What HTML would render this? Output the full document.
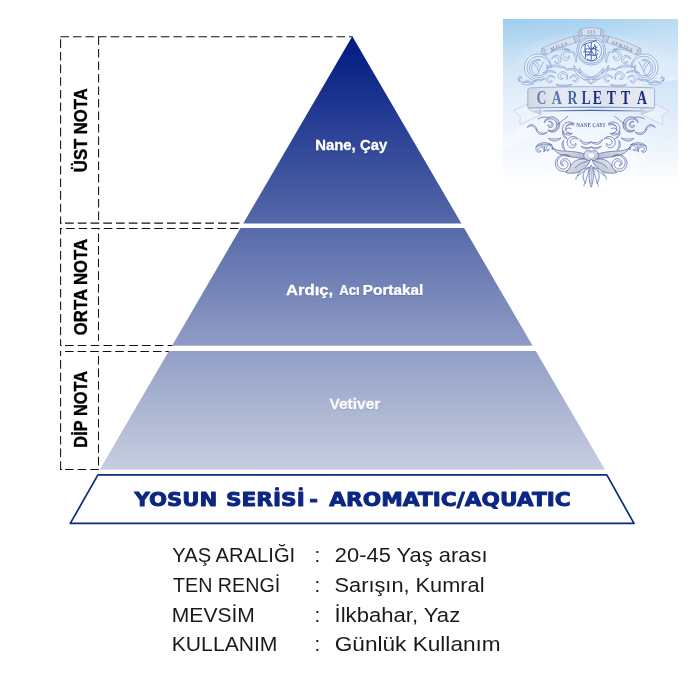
<!DOCTYPE html>
<html lang="tr">
<head>
<meta charset="utf-8">
<title>Carletta - Nane Çayı</title>
<style>
html,body{margin:0;padding:0;background:#fff;}
body{width:700px;height:700px;overflow:hidden;position:relative;font-family:"Liberation Sans",sans-serif;}
svg{position:absolute;left:0;top:0;display:block;will-change:transform;}
text{font-family:"Liberation Sans",sans-serif;}
.lbl{font-weight:700;fill:#000;font-size:17.5px;stroke:#000;stroke-width:0.35px;}
.note{font-weight:700;fill:#fff;font-size:14.8px;stroke:#fff;stroke-width:0.25px;}
.title{font-family:"DejaVu Sans","Liberation Sans",sans-serif;font-weight:700;fill:#0c2783;stroke:#0c2783;stroke-width:0.9px;stroke-linejoin:round;font-size:19.2px;}
.info{fill:#1a1a1a;font-size:20.3px;}
.orn .ln{fill:none;stroke:#6685c8;stroke-width:0.6;stroke-linecap:round;stroke-linejoin:round;}
.orn .lf{fill:#eef3fa;stroke:#7f9ad2;stroke-width:0.6;stroke-linejoin:round;}
.orn .sv{fill:url(#sv);stroke:#6685c8;stroke-width:0.6;stroke-linejoin:round;}
.orn .rb{fill:#dde3ed;stroke:#8ea4d2;stroke-width:0.55;stroke-linejoin:round;}
.orn .rb2{fill:#c6cfde;stroke:#8ea4d2;stroke-width:0.5;stroke-linejoin:round;}
.orn .top .lf{stroke:#7c97d1;stroke-width:0.7;fill:#f1f5fb;}
.orn .top .ln{stroke:#7c97d1;stroke-width:0.7;}
.orn .bot .lf{stroke:#4f63a6;fill:#f3f6fb;stroke-width:0.7;}
.orn .bot .ln{stroke:#4f63a6;stroke-width:0.7;}
.orn .bot .sv{stroke:#4f63a6;stroke-width:0.7;}
.brand{font-family:"Liberation Serif",serif;font-size:19.7px;font-weight:700;}
.sub{font-family:"Liberation Serif",serif;font-size:6.1px;font-weight:700;fill:#5d6ea6;}
.rt{font-family:"Liberation Serif",serif;font-size:5px;font-weight:700;fill:#8093bd;}
.orn .lf{fill:#dfe6f2;stroke:#5577c0;stroke-width:0.55;stroke-linejoin:round;}
.orn .sv{fill:url(#sv);stroke:#5577c0;stroke-width:0.6;stroke-linejoin:round;}
.orn .rb{fill:#d9dfea;stroke:#7f98cc;stroke-width:0.55;stroke-linejoin:round;}
.orn .rb2{fill:#c3ccdc;stroke:#7f98cc;stroke-width:0.5;stroke-linejoin:round;}
</style>
</head>
<body>
<svg width="700" height="700" viewBox="0 0 700 700">
<defs>
<linearGradient id="pg" gradientUnits="userSpaceOnUse" x1="0" y1="36" x2="0" y2="470">
<stop offset="0" stop-color="#001a82"/>
<stop offset="0.046" stop-color="#082286"/>
<stop offset="0.392" stop-color="#4d61a5"/>
<stop offset="0.668" stop-color="#8794c1"/>
<stop offset="0.979" stop-color="#c3cade"/>
<stop offset="1" stop-color="#c7cee0"/>
</linearGradient>
<linearGradient id="lbg" x1="0" y1="0" x2="1" y2="0">
<stop offset="0" stop-color="#9dccee"/>
<stop offset="1" stop-color="#a6d1ef"/>
</linearGradient>
<linearGradient id="lfade" x1="0" y1="0" x2="0" y2="1">
<stop offset="0" stop-color="#fcfbff" stop-opacity="0"/>
<stop offset="0.12" stop-color="#fcfbff" stop-opacity="0.24"/>
<stop offset="0.25" stop-color="#fcfbff" stop-opacity="0.5"/>
<stop offset="0.4" stop-color="#fcfbff" stop-opacity="0.7"/>
<stop offset="0.55" stop-color="#fcfbff" stop-opacity="0.8"/>
<stop offset="0.75" stop-color="#fdfdff" stop-opacity="0.9"/>
<stop offset="0.95" stop-color="#fff" stop-opacity="1"/>
</linearGradient>
<linearGradient id="tint" x1="0" y1="0" x2="1" y2="0">
<stop offset="0" stop-color="#8fc3ea" stop-opacity="0"/>
<stop offset="0.5" stop-color="#8fc3ea" stop-opacity="0.03"/>
<stop offset="1" stop-color="#8fc3ea" stop-opacity="0.16"/>
</linearGradient>
<linearGradient id="tintv" x1="0" y1="0" x2="0" y2="1">
<stop offset="0" stop-color="#fff" stop-opacity="0"/>
<stop offset="0.4" stop-color="#fff" stop-opacity="0"/>
<stop offset="0.85" stop-color="#fff" stop-opacity="1"/>
</linearGradient>
<mask id="tm" maskUnits="userSpaceOnUse" x="500" y="15" width="185" height="185"><rect x="500" y="15" width="185" height="185" fill="#fff"/><rect x="500" y="15" width="185" height="185" fill="url(#tintk)"/></mask>
<linearGradient id="tintk" x1="0" y1="0" x2="0" y2="1">
<stop offset="0.45" stop-color="#000" stop-opacity="0"/>
<stop offset="0.9" stop-color="#000" stop-opacity="1"/>
</linearGradient>
<linearGradient id="gloss" x1="0" y1="0" x2="1" y2="0">
<stop offset="0" stop-color="#fff" stop-opacity="0"/>
<stop offset="0.45" stop-color="#fff" stop-opacity="0.04"/>
<stop offset="1" stop-color="#fff" stop-opacity="0.22"/>
</linearGradient>
<linearGradient id="streak" x1="0" y1="0" x2="1" y2="0">
<stop offset="0" stop-color="#fff" stop-opacity="0.7"/>
<stop offset="0.3" stop-color="#fff" stop-opacity="0.25"/>
<stop offset="0.7" stop-color="#fff" stop-opacity="0.2"/>
<stop offset="1" stop-color="#fff" stop-opacity="0.6"/>
</linearGradient>
<filter id="b1" x="-5%" y="-20%" width="110%" height="140%"><feGaussianBlur stdDeviation="0.8"/></filter>
<linearGradient id="bn" x1="0" y1="0" x2="1" y2="0">
<stop offset="0" stop-color="#d3d9e4"/>
<stop offset="0.3" stop-color="#e6eaf1"/>
<stop offset="0.6" stop-color="#dde2ec"/>
<stop offset="1" stop-color="#e9edf3"/>
</linearGradient>
<linearGradient id="sv" x1="0" y1="0" x2="1" y2="1">
<stop offset="0" stop-color="#eef1f5"/>
<stop offset="0.6" stop-color="#c9ced8"/>
<stop offset="1" stop-color="#b4bac6"/>
</linearGradient>
<linearGradient id="bt" gradientUnits="userSpaceOnUse" x1="761.4" y1="0" x2="928.6" y2="0">
<stop offset="0.000" stop-color="#6a86c0"/><stop offset="0.070" stop-color="#5f7cba"/><stop offset="0.202" stop-color="#5874b5"/><stop offset="0.338" stop-color="#4a66ad"/><stop offset="0.419" stop-color="#314a98"/><stop offset="0.479" stop-color="#21388a"/><stop offset="0.549" stop-color="#192e80"/><stop offset="0.670" stop-color="#162a7c"/><stop offset="0.791" stop-color="#162a7c"/><stop offset="0.931" stop-color="#1c3182"/><stop offset="1.000" stop-color="#1c3182"/>
</linearGradient>
<linearGradient id="ul" gradientUnits="userSpaceOnUse" x1="543" y1="0" x2="641" y2="0">
<stop offset="0" stop-color="#8ea4d2"/><stop offset="0.5" stop-color="#3f5fae"/><stop offset="1" stop-color="#8ea4d2"/>
</linearGradient>
<linearGradient id="tl" x1="0" y1="0" x2="1" y2="0">
<stop offset="0" stop-color="#e9edf4"/><stop offset="1" stop-color="#c3cad8"/>
</linearGradient>
<radialGradient id="glow" cx="0.5" cy="0.5" r="0.5">
<stop offset="0" stop-color="#fff" stop-opacity="0.45"/><stop offset="0.6" stop-color="#fff" stop-opacity="0.3"/><stop offset="1" stop-color="#fff" stop-opacity="0"/>
</radialGradient>
<filter id="ts" x="-10%" y="-30%" width="120%" height="160%">
<feDropShadow dx="0" dy="0.6" stdDeviation="0.7" flood-color="#1a2a6a" flood-opacity="0.35"/>
</filter>
</defs>
<!-- dashed guides -->
<g fill="none" stroke="#111" stroke-width="1.05">
<path d="M60.20 36.70H352.50" stroke-dasharray="8.60 3.95" stroke-dashoffset="12.35"/>
<path d="M60.60 36.20V223.40" stroke-dasharray="8.60 4.05" stroke-dashoffset="9.55"/>
<path d="M98.60 36.20V221.00" stroke-dasharray="8.60 3.90" stroke-dashoffset="12.30"/>
<path d="M60.60 223.10H243.50" stroke-dasharray="8.70 4.05" stroke-dashoffset="8.35" stroke-width="1.15"/>
<path d="M60.20 228.40H241.00" stroke-dasharray="8.60 4.00" stroke-dashoffset="6.80"/>
<path d="M60.60 227.90V346.00" stroke-dasharray="8.60 4.00" stroke-dashoffset="2.00"/>
<path d="M98.50 228.30V340.80" stroke-dasharray="8.60 4.00" stroke-dashoffset="7.40"/>
<path d="M60.60 345.50H172.60" stroke-dasharray="8.60 4.24" stroke-dashoffset="8.44"/>
<path d="M60.20 351.50H169.50" stroke-dasharray="8.60 3.96" stroke-dashoffset="7.76"/>
<path d="M60.60 351.10V469.90" stroke-dasharray="8.60 4.05" stroke-dashoffset="3.70"/>
<path d="M98.50 351.50V466.00" stroke-dasharray="8.60 4.00" stroke-dashoffset="8.10"/>
<path d="M60.20 469.50H100.50" stroke-dasharray="8.60 4.00" stroke-dashoffset="7.80"/>
<path d="M60.2 469.5H62"/>
<path d="M60.2 223.1H61.6"/>
<path d="M60.2 345.5H61.6"/>
</g>
<!-- pyramid -->
<g fill="url(#pg)">
<path d="M352.300 36.200 L461.400 223.600 H243.200 Z"/>
<path d="M240.500 228.100 H464.100 L532.600 345.700 H172 Z"/>
<path d="M168.900 351.100 H535.800 L605 469.800 H99.700 Z"/>
</g>
<!-- banner -->
<path d="M97.900 474.900 H606.800 L634 523.400 H70.300 Z" fill="#fff" stroke="#0c2a7d" stroke-width="1.7" stroke-linejoin="round"/>
<text class="title" transform="translate(134.40 506.45) scale(1.1049 1)">YOSUN</text>
<text class="title" transform="translate(225.97 506.45) scale(1.1279 1)">SERİSİ</text>
<text class="title" transform="translate(309.31 506.45) scale(1.0968 1)">-</text>
<text class="title" transform="translate(329.26 506.45) scale(1.1309 1)">AROMATIC/AQUATIC</text>
<!-- notes -->
<g filter="url(#ts)">
<text class="note" transform="translate(315.19 150.300) scale(1.0068 1)">Nane, Çay</text>
<text class="note" transform="translate(286.00 295.400) scale(1.1241 1)">Ardıç,</text><text class="note" transform="translate(339.30 295.400) scale(0.8858 1)">Acı</text><text class="note" transform="translate(362.80 295.400) scale(1.0372 1)">Portakal</text>
<text class="note" fill-opacity="0.95" transform="translate(329.47 408.600) scale(1.0483 1)">Vetiver</text>
</g>
<!-- side labels -->
<text class="lbl" transform="translate(86.7 172.13) rotate(-90) scale(0.9529 1)">ÜST NOTA</text>
<text class="lbl" transform="translate(86.7 335.19) rotate(-90) scale(0.9569 1)">ORTA NOTA</text>
<text class="lbl" transform="translate(86.7 447.65) rotate(-90) scale(0.9354 1)">DİP NOTA</text>
<!-- info -->
<g>
<text class="info" transform="translate(172.23 561.700) scale(0.9946 1)">YAŞ ARALIĞI</text><text class="info" x="314.500" y="561.700">:</text><text class="info" transform="translate(334.87 561.700) scale(1.0797 1)">20-45 Yaş arası</text>
<text class="info" transform="translate(173.04 591.600) scale(0.9698 1)">TEN RENGİ</text><text class="info" x="314.500" y="591.600">:</text><text class="info" transform="translate(334.61 591.600) scale(1.0719 1)">Sarışın, Kumral</text>
<text class="info" transform="translate(171.82 622) scale(1.0375 1)">MEVSİM</text><text class="info" x="314.500" y="622">:</text><text class="info" transform="translate(334.57 622) scale(1.0884 1)">İlkbahar, Yaz</text>
<text class="info" transform="translate(171.76 650.500) scale(1.0415 1)">KULLANIM</text><text class="info" x="314.500" y="650.500">:</text><text class="info" transform="translate(334.74 650.500) scale(1.1145 1)">Günlük Kullanım</text>
</g>
<g id="logo">
<clipPath id="lc"><rect x="503" y="19" width="175" height="176"/></clipPath>
<g clip-path="url(#lc)">
<rect x="502" y="18" width="178" height="179" fill="url(#lbg)"/>
<rect x="502" y="18" width="178" height="179" fill="url(#lfade)"/>
<path d="M502 18 H680 V79 C620 86 560 105 502 140.500 Z" fill="url(#gloss)"/>
<path d="M678.400 79 C620 86 560 105 503.200 140" fill="none" stroke="url(#streak)" stroke-width="1.6" filter="url(#b1)"/>
<path d="M503.200 140 C540 117 580 102 620 93 L503.200 150 Z" fill="#fff" fill-opacity="0.35" filter="url(#b1)"/>
<path d="M680 79 C620 86 560 105 502 140.500 V197 H680 Z" fill="url(#tint)" mask="url(#tm)"/>
<ellipse cx="591.2" cy="62" rx="80" ry="32" fill="url(#glow)"/>
<ellipse cx="591.2" cy="148" rx="66" ry="40" fill="url(#glow)"/>
</g>
<g class="orn">
<g class="top">
<path class="lf" d="M544.4 78.2 L542.4 79.1 L540.4 79.5 L538.3 79.6 L536.2 79.4 L534.3 78.7 L532.5 77.8 L530.8 76.6 L529.5 75.1 L528.4 73.4 L527.6 71.6 L527.1 69.7 L527.0 67.7 L527.2 65.7 L527.7 63.8 L528.5 62.0 L529.6 60.4 L531.0 59.0 L532.6 57.9 L534.4 57.0 L536.3 56.5 L538.3 56.2 L540.3 56.3 L542.3 56.8 L544.1 57.6 L545.9 58.7 L547.4 60.1 L548.6 61.7 L549.6 63.6 L550.2 65.6 L550.5 67.7 L551.3 67.7 L551.2 65.4 L550.7 63.2 L549.8 61.1 L548.5 59.1 L546.9 57.4 L545.1 56.0 L543.0 54.9 L540.7 54.2 L538.3 54.0 L535.9 54.1 L533.6 54.7 L531.4 55.7 L529.4 57.1 L527.7 58.8 L526.3 60.8 L525.2 62.9 L524.6 65.3 L524.4 67.7 L524.7 70.1 L525.4 72.4 L526.4 74.6 L527.8 76.5 L529.6 78.1 L531.5 79.4 L533.7 80.3 L536.0 80.9 L538.3 81.0 L540.6 80.7 L542.8 80.0 L544.8 79.0Z"/>
<path class="lf" d="M546.8 65.1 L547.1 66.5 L547.1 68.0 L546.9 69.4 L546.5 70.8 L545.8 72.0 L544.9 73.1 L543.9 74.0 L542.7 74.7 L541.4 75.2 L540.1 75.5 L538.8 75.6 L537.5 75.4 L536.3 75.0 L535.1 74.4 L534.1 73.7 L533.2 72.8 L532.4 71.7 L531.9 70.5 L531.6 69.3 L531.4 68.0 L531.5 66.7 L531.8 65.5 L532.4 64.3 L533.1 63.2 L534.0 62.3 L535.0 61.5 L536.2 60.9 L537.5 60.5 L538.8 60.3 L540.2 60.4 L540.2 59.9 L538.8 59.6 L537.3 59.7 L535.9 60.0 L534.5 60.5 L533.2 61.3 L532.0 62.3 L531.1 63.5 L530.3 64.9 L529.8 66.4 L529.6 68.0 L529.7 69.6 L530.1 71.2 L530.7 72.6 L531.6 74.0 L532.7 75.2 L534.1 76.2 L535.6 76.9 L537.1 77.3 L538.8 77.4 L540.4 77.3 L542.0 76.9 L543.5 76.1 L544.8 75.2 L545.9 74.0 L546.8 72.7 L547.5 71.2 L547.9 69.6 L548.0 68.0 L547.8 66.4 L547.3 64.9Z"/>
<path class="ln" d="M533 62.500 C535.500 65 537.500 67.500 538.500 71 M543.500 62 C542 65 540 68.500 538.500 71.500 C538 75 536 76.500 533.500 75 M536 62 C537.500 63 538.500 64.500 539 66.500"/>
<path class="lf" d="M535.9 80.3 L534.6 81.1 L533.4 81.6 L532.2 82.1 L531.0 82.4 L529.8 82.6 L528.6 82.7 L527.5 82.7 L526.4 82.7 L525.3 82.5 L524.3 82.3 L523.2 82.1 L522.2 81.7 L521.2 81.3 L520.3 80.8 L519.4 80.2 L518.5 79.4 L518.3 79.6 L518.9 80.6 L519.6 81.6 L520.5 82.4 L521.4 83.2 L522.5 83.8 L523.7 84.3 L524.9 84.7 L526.2 84.8 L527.5 84.9 L528.9 84.7 L530.2 84.4 L531.5 84.0 L532.7 83.3 L533.9 82.6 L535.1 81.7 L536.1 80.7Z"/>
<path class="lf" d="M519.8 80.7 L519.5 80.5 L519.3 80.2 L519.1 79.9 L519.0 79.6 L519.0 79.3 L519.0 79.0 L519.0 78.8 L519.1 78.5 L519.2 78.3 L519.4 78.2 L519.5 78.0 L519.7 77.9 L519.9 77.9 L520.1 77.8 L520.2 77.8 L520.4 77.8 L520.5 77.8 L520.7 77.9 L520.8 78.0 L520.9 78.0 L521.0 78.1 L521.1 78.3 L521.2 78.4 L521.2 78.5 L521.2 78.7 L521.4 78.7 L521.5 78.6 L521.6 78.4 L521.6 78.2 L521.6 77.9 L521.5 77.7 L521.4 77.4 L521.2 77.2 L520.9 77.0 L520.6 76.9 L520.3 76.8 L519.9 76.8 L519.6 76.9 L519.3 77.0 L518.9 77.3 L518.7 77.5 L518.4 77.9 L518.3 78.2 L518.2 78.6 L518.2 79.0 L518.3 79.4 L518.4 79.8 L518.6 80.2 L518.9 80.5 L519.3 80.8 L519.6 81.0Z"/>
<path class="lf" d="M523.1 83.1 L523.7 82.7 L524.3 82.5 L524.9 82.3 L525.6 82.2 L526.2 82.1 L526.7 82.1 L527.3 82.1 L527.9 82.2 L528.5 82.3 L529.1 82.4 L529.7 82.6 L530.3 82.9 L531.0 83.2 L531.6 83.6 L532.3 84.0 L532.9 84.6 L533.1 84.4 L532.6 83.7 L532.0 83.1 L531.5 82.5 L530.9 82.0 L530.2 81.6 L529.5 81.2 L528.8 81.0 L528.1 80.8 L527.4 80.8 L526.6 80.8 L525.9 80.9 L525.3 81.2 L524.6 81.5 L524.0 81.9 L523.5 82.4 L522.9 82.9Z"/>
<path class="rb" d="M542 48.300 C552 43.500 563 39.200 573.500 36.300 L575.500 42.600 C565 45.500 555 49.500 547 54.800 Z"/>
<path class="rb2" d="M542 48.300 C540.500 50.500 541.500 53.500 544 55 L547 54.800 C545 53 544.500 51 545.500 49.500 Z"/>
<path class="rb2" d="M573.500 36.300 L578.500 35.200 L580 41.500 L575.500 42.600 Z"/>
<path class="lf" d="M570.9 52.4 L570.2 51.8 L569.3 51.2 L568.4 50.8 L567.4 50.6 L566.4 50.5 L565.4 50.6 L564.5 51.0 L563.6 51.4 L562.9 52.0 L562.2 52.8 L561.7 53.6 L561.4 54.5 L561.3 55.4 L561.3 56.4 L561.5 57.3 L561.9 58.1 L562.4 58.8 L563.0 59.4 L563.7 59.9 L564.4 60.2 L565.2 60.4 L566.0 60.4 L566.7 60.2 L567.4 60.0 L567.9 59.6 L568.4 59.2 L568.8 58.6 L569.0 58.1 L569.1 57.6 L569.1 57.0 L569.0 56.6 L568.8 56.1 L568.6 55.8 L568.3 55.9 L568.4 56.3 L568.3 56.6 L568.3 57.0 L568.1 57.3 L567.9 57.6 L567.7 57.8 L567.4 58.0 L567.0 58.2 L566.7 58.3 L566.3 58.3 L565.9 58.3 L565.5 58.3 L565.2 58.1 L564.8 57.9 L564.5 57.7 L564.1 57.3 L563.9 57.0 L563.7 56.5 L563.5 56.0 L563.5 55.5 L563.5 54.9 L563.6 54.4 L563.9 53.8 L564.2 53.3 L564.7 52.8 L565.2 52.4 L565.9 52.0 L566.6 51.8 L567.4 51.7 L568.2 51.7 L569.0 51.9 L569.9 52.2 L570.7 52.8Z"/>
<path class="lf" d="M552.0 58.9 L552.5 58.2 L553.1 57.7 L553.7 57.3 L554.4 57.0 L555.1 56.9 L555.8 56.8 L556.4 56.9 L557.0 57.1 L557.5 57.4 L557.9 57.8 L558.3 58.1 L558.6 58.6 L558.8 59.0 L558.9 59.5 L558.9 59.9 L558.9 60.3 L558.8 60.7 L558.6 61.1 L558.4 61.4 L558.2 61.7 L557.9 61.9 L557.6 62.1 L557.3 62.2 L557.0 62.3 L556.6 62.3 L556.3 62.3 L556.0 62.2 L555.7 62.0 L555.5 61.9 L555.3 61.6 L555.1 61.4 L554.8 61.4 L554.8 61.8 L554.9 62.2 L555.2 62.6 L555.5 63.0 L555.9 63.3 L556.4 63.5 L556.9 63.7 L557.5 63.7 L558.1 63.6 L558.7 63.4 L559.3 63.1 L559.8 62.6 L560.3 62.1 L560.6 61.4 L560.8 60.7 L560.9 59.9 L560.8 59.1 L560.6 58.3 L560.2 57.6 L559.7 56.9 L559.0 56.4 L558.3 55.9 L557.5 55.6 L556.6 55.5 L555.7 55.5 L554.8 55.7 L554.0 56.1 L553.2 56.5 L552.6 57.2 L552.0 57.9 L551.6 58.7Z"/>
<path class="lf" d="M551.1 52.1 L552.1 51.6 L553.1 51.1 L554.2 50.7 L555.3 50.4 L556.4 50.1 L557.5 49.9 L558.7 49.7 L559.8 49.5 L561.0 49.4 L562.2 49.3 L563.5 49.3 L564.7 49.3 L566.0 49.4 L567.3 49.6 L568.6 49.8 L570.0 50.1 L570.0 49.9 L568.8 49.4 L567.5 48.9 L566.2 48.5 L564.8 48.2 L563.5 48.0 L562.2 47.9 L560.9 47.9 L559.7 48.0 L558.4 48.2 L557.2 48.5 L556.0 48.9 L554.9 49.3 L553.8 49.9 L552.8 50.5 L551.8 51.2 L550.9 51.9Z"/>
<path class="lf" d="M571.9 51.1 L572.4 51.7 L572.8 52.4 L573.1 53.1 L573.5 53.8 L573.8 54.4 L574.0 55.1 L574.3 55.8 L574.6 56.5 L574.8 57.1 L575.0 57.8 L575.2 58.6 L575.4 59.3 L575.6 60.1 L575.7 60.8 L575.8 61.6 L575.9 62.5 L576.1 62.5 L576.3 61.7 L576.5 60.8 L576.6 60.0 L576.6 59.2 L576.6 58.3 L576.5 57.5 L576.3 56.7 L576.1 55.9 L575.8 55.2 L575.4 54.4 L575.0 53.8 L574.5 53.1 L573.9 52.5 L573.3 51.9 L572.7 51.4 L572.1 50.9Z"/>
<path class="lf" d="M548.0 67.6 L549.1 67.3 L550.1 67.1 L551.1 66.9 L552.2 66.8 L553.3 66.8 L554.4 66.8 L555.5 66.8 L556.6 66.8 L557.7 66.9 L558.8 67.0 L560.0 67.2 L561.2 67.4 L562.4 67.6 L563.6 67.9 L564.8 68.2 L566.0 68.6 L566.0 68.4 L565.0 67.7 L563.9 67.1 L562.7 66.6 L561.5 66.1 L560.3 65.7 L559.1 65.4 L557.9 65.2 L556.7 65.0 L555.5 65.0 L554.3 65.1 L553.1 65.3 L552.0 65.5 L550.9 65.9 L549.8 66.3 L548.9 66.8 L548.0 67.4Z"/>
<path class="lf" d="M554.8 78.1 L554.4 77.4 L553.9 76.7 L553.3 76.1 L552.6 75.7 L551.8 75.4 L551.0 75.2 L550.2 75.2 L549.4 75.3 L548.6 75.6 L548.0 76.0 L547.4 76.5 L546.9 77.1 L546.5 77.8 L546.3 78.5 L546.2 79.2 L546.3 80.0 L546.5 80.6 L546.8 81.3 L547.2 81.8 L547.7 82.2 L548.2 82.6 L548.8 82.8 L549.4 82.9 L549.9 82.8 L550.5 82.7 L550.9 82.5 L551.3 82.2 L551.6 81.8 L551.8 81.5 L552.0 81.1 L552.0 80.7 L552.0 80.4 L551.7 80.3 L551.5 80.6 L551.4 80.8 L551.2 81.0 L551.0 81.2 L550.7 81.3 L550.4 81.4 L550.1 81.4 L549.9 81.4 L549.6 81.3 L549.3 81.2 L549.0 81.1 L548.8 80.9 L548.6 80.6 L548.4 80.3 L548.2 80.0 L548.1 79.6 L548.1 79.3 L548.1 78.9 L548.2 78.4 L548.4 78.0 L548.7 77.6 L549.0 77.3 L549.4 77.0 L549.9 76.7 L550.4 76.5 L551.0 76.4 L551.6 76.5 L552.2 76.6 L552.8 76.8 L553.4 77.2 L554.0 77.7 L554.5 78.3Z"/>
<path class="lf" d="M567.0 79.4 L567.4 78.5 L567.6 77.6 L567.6 76.6 L567.5 75.7 L567.2 74.8 L566.8 74.0 L566.2 73.3 L565.5 72.7 L564.8 72.2 L563.9 71.9 L563.0 71.8 L562.2 71.8 L561.3 71.9 L560.5 72.3 L559.8 72.7 L559.2 73.3 L558.8 74.0 L558.4 74.7 L558.2 75.4 L558.2 76.2 L558.3 76.9 L558.5 77.5 L558.9 78.1 L559.3 78.6 L559.8 79.0 L560.4 79.3 L560.9 79.4 L561.5 79.4 L562.0 79.4 L562.4 79.2 L562.8 79.0 L563.1 78.7 L563.3 78.4 L563.1 78.1 L562.8 78.3 L562.5 78.4 L562.2 78.4 L561.9 78.4 L561.6 78.3 L561.3 78.2 L561.0 78.0 L560.8 77.8 L560.6 77.5 L560.4 77.2 L560.3 76.9 L560.2 76.5 L560.2 76.1 L560.3 75.8 L560.4 75.4 L560.6 75.0 L560.8 74.7 L561.1 74.3 L561.5 74.1 L561.9 73.8 L562.4 73.7 L563.0 73.6 L563.5 73.7 L564.1 73.8 L564.7 74.0 L565.2 74.4 L565.7 74.8 L566.2 75.4 L566.5 76.0 L566.8 76.8 L566.9 77.5 L566.8 78.4 L566.6 79.2Z"/>
<path class="lf" d="M570.4 78.5 L570.7 77.8 L571.1 77.3 L571.6 76.8 L572.2 76.5 L572.7 76.3 L573.3 76.2 L573.9 76.1 L574.4 76.2 L574.9 76.4 L575.3 76.6 L575.7 76.9 L576.0 77.2 L576.2 77.6 L576.4 77.9 L576.5 78.3 L576.5 78.7 L576.5 79.0 L576.4 79.4 L576.3 79.7 L576.1 80.0 L575.9 80.2 L575.7 80.4 L575.5 80.6 L575.2 80.7 L574.9 80.7 L574.6 80.8 L574.3 80.7 L574.1 80.7 L573.8 80.5 L573.6 80.4 L573.4 80.2 L573.1 80.3 L573.2 80.6 L573.4 81.0 L573.6 81.3 L574.0 81.5 L574.4 81.8 L574.8 81.9 L575.3 81.9 L575.9 81.9 L576.4 81.7 L576.9 81.4 L577.4 81.0 L577.8 80.6 L578.1 80.0 L578.2 79.4 L578.3 78.7 L578.2 78.0 L578.0 77.3 L577.7 76.7 L577.3 76.1 L576.7 75.6 L576.1 75.2 L575.4 75.0 L574.6 74.8 L573.8 74.8 L573.1 75.0 L572.3 75.3 L571.6 75.7 L571.1 76.2 L570.6 76.9 L570.2 77.6 L570.0 78.4Z"/>
<path class="lf" d="M543.0 73.1 L543.9 72.7 L544.7 72.5 L545.5 72.2 L546.3 72.1 L547.1 71.9 L547.9 71.8 L548.7 71.8 L549.5 71.8 L550.3 71.8 L551.1 71.8 L551.9 71.9 L552.7 72.1 L553.5 72.2 L554.3 72.5 L555.1 72.7 L556.0 73.1 L556.0 72.9 L555.3 72.4 L554.6 71.9 L553.8 71.5 L553.0 71.1 L552.1 70.8 L551.3 70.6 L550.4 70.5 L549.5 70.5 L548.6 70.5 L547.7 70.6 L546.9 70.8 L546.0 71.1 L545.2 71.5 L544.4 71.9 L543.7 72.4 L543.0 72.9Z"/>
<path class="lf" d="M566.0 70.1 L567.0 69.9 L568.0 69.8 L569.0 69.7 L569.9 69.8 L570.9 69.8 L571.8 70.0 L572.8 70.1 L573.7 70.3 L574.6 70.6 L575.5 70.8 L576.4 71.2 L577.4 71.5 L578.3 72.0 L579.2 72.4 L580.1 73.0 L580.9 73.6 L581.1 73.4 L580.4 72.6 L579.6 71.8 L578.8 71.1 L578.0 70.4 L577.1 69.9 L576.1 69.4 L575.1 69.0 L574.1 68.7 L573.0 68.5 L572.0 68.4 L570.9 68.4 L569.9 68.5 L568.8 68.7 L567.8 69.0 L566.9 69.4 L566.0 69.9Z"/>
<path class="lf" d="M556.0 84.6 L556.9 85.0 L557.8 85.4 L558.8 85.7 L559.8 86.0 L560.9 86.2 L561.9 86.3 L562.9 86.4 L564.0 86.4 L565.1 86.4 L566.1 86.3 L567.1 86.2 L568.2 86.0 L569.2 85.7 L570.2 85.4 L571.1 85.0 L572.0 84.6 L572.0 84.4 L571.0 84.6 L570.0 84.8 L569.0 85.0 L568.0 85.1 L567.0 85.1 L566.0 85.2 L565.0 85.2 L564.0 85.2 L563.0 85.2 L562.0 85.2 L561.0 85.1 L560.0 85.1 L559.0 85.0 L558.0 84.8 L557.0 84.6 L556.0 84.4Z"/>
<path class="lf" d="M580.0 77.1 L580.7 77.5 L581.4 77.8 L582.0 78.2 L582.7 78.6 L583.4 79.1 L584.1 79.5 L584.7 79.9 L585.4 80.3 L586.1 80.8 L586.8 81.2 L587.5 81.6 L588.2 82.1 L589.0 82.5 L589.7 83.0 L590.4 83.5 L591.1 84.1 L591.3 83.9 L590.8 83.2 L590.2 82.4 L589.7 81.7 L589.1 81.1 L588.5 80.4 L587.8 79.8 L587.1 79.3 L586.4 78.8 L585.6 78.4 L584.8 78.0 L584.1 77.7 L583.3 77.4 L582.4 77.2 L581.6 77.1 L580.8 77.0 L580.0 76.9Z"/>
<path class="lf" d="M590.6 79.2 L589.0 78.9 L587.5 78.4 L586.0 77.8 L584.6 77.1 L583.2 76.3 L581.9 75.4 L580.7 74.5 L579.6 73.5 L578.5 72.4 L577.5 71.2 L576.5 69.9 L575.7 68.6 L574.9 67.1 L574.3 65.6 L573.9 65.7 L574.1 67.4 L574.5 69.0 L575.1 70.7 L575.8 72.3 L576.8 73.7 L577.9 75.1 L579.2 76.3 L580.6 77.4 L582.1 78.3 L583.8 78.9 L585.4 79.4 L587.2 79.7 L588.9 79.8 L590.6 79.7Z"/>
<path class="lf" d="M578.9 68.0 L579.3 69.0 L579.7 70.0 L580.2 70.9 L580.8 71.8 L581.4 72.7 L582.1 73.5 L582.8 74.2 L583.6 74.9 L584.4 75.5 L585.3 76.0 L586.2 76.5 L587.2 76.9 L588.2 77.2 L589.2 77.4 L590.2 77.6 L591.2 77.6 L591.2 77.4 L590.3 77.0 L589.4 76.6 L588.5 76.2 L587.7 75.7 L586.9 75.3 L586.1 74.7 L585.3 74.2 L584.6 73.6 L583.8 73.0 L583.1 72.4 L582.4 71.8 L581.7 71.1 L581.0 70.4 L580.3 69.6 L579.7 68.8 L579.1 68.0Z"/>
</g>
<g class="bot">
<path class="lf" d="M527.4 127.4 L528.2 126.9 L528.9 126.4 L529.6 126.2 L530.2 126.0 L530.9 125.9 L531.4 125.9 L532.0 126.0 L532.5 126.1 L533.0 126.3 L533.5 126.6 L534.0 126.9 L534.5 127.4 L535.0 127.8 L535.4 128.4 L535.8 129.0 L536.1 129.7 L536.9 129.3 L536.6 128.6 L536.3 127.8 L535.9 127.1 L535.4 126.5 L534.9 126.0 L534.3 125.5 L533.6 125.1 L532.9 124.8 L532.2 124.6 L531.4 124.6 L530.7 124.7 L529.9 125.0 L529.2 125.3 L528.5 125.8 L527.8 126.5 L527.2 127.2Z"/>
<path class="lf" d="M536.1 129.6 L536.4 130.5 L536.8 131.3 L537.2 132.0 L537.8 132.7 L538.4 133.3 L539.1 133.7 L539.8 134.1 L540.6 134.3 L541.5 134.5 L542.3 134.5 L543.2 134.4 L544.0 134.2 L544.8 133.9 L545.6 133.5 L546.4 133.0 L547.1 132.5 L546.9 132.1 L546.1 132.5 L545.3 132.8 L544.5 132.9 L543.8 133.1 L543.0 133.1 L542.3 133.1 L541.6 133.0 L541.0 132.9 L540.4 132.7 L539.8 132.4 L539.2 132.1 L538.7 131.7 L538.1 131.3 L537.7 130.7 L537.2 130.1 L536.9 129.4Z"/>
<path class="sv" d="M544.5 122.6 L545.2 121.5 L546.1 120.6 L547.0 119.9 L548.1 119.3 L549.2 119.0 L550.3 118.9 L551.4 118.9 L552.4 119.2 L553.4 119.6 L554.3 120.1 L555.0 120.8 L555.6 121.6 L556.1 122.4 L556.4 123.3 L556.6 124.3 L556.6 125.2 L556.5 126.2 L556.2 127.1 L555.8 127.9 L555.2 128.7 L554.6 129.4 L553.8 129.9 L552.9 130.4 L551.9 130.6 L550.9 130.7 L549.8 130.6 L548.8 130.4 L547.9 129.9 L547.6 130.2 L548.5 131.0 L549.6 131.5 L550.7 131.9 L552.0 132.1 L553.3 132.0 L554.5 131.7 L555.7 131.1 L556.8 130.3 L557.8 129.3 L558.6 128.2 L559.1 126.9 L559.4 125.5 L559.4 124.0 L559.1 122.6 L558.6 121.2 L557.8 120.0 L556.9 118.9 L555.7 118.0 L554.4 117.4 L553.0 117.0 L551.5 116.9 L550.1 117.0 L548.7 117.4 L547.4 118.1 L546.3 118.9 L545.4 119.9 L544.7 121.1 L544.2 122.4Z"/>
<path class="lf" d="M548.6 121.8 L549.2 121.7 L549.8 121.8 L550.3 122.0 L550.7 122.2 L551.1 122.6 L551.5 122.9 L551.7 123.3 L551.8 123.7 L551.9 124.1 L551.9 124.5 L551.9 124.9 L551.8 125.2 L551.6 125.5 L551.4 125.8 L551.2 126.0 L551.0 126.2 L550.7 126.3 L550.4 126.4 L550.2 126.4 L549.9 126.4 L549.7 126.4 L549.5 126.3 L549.3 126.2 L549.1 126.0 L548.9 125.9 L548.8 125.7 L548.7 125.5 L548.7 125.3 L548.7 125.1 L548.7 124.8 L548.5 124.7 L548.4 124.9 L548.2 125.2 L548.2 125.5 L548.1 125.8 L548.2 126.2 L548.3 126.5 L548.6 126.9 L548.9 127.2 L549.2 127.4 L549.7 127.6 L550.1 127.7 L550.6 127.7 L551.1 127.6 L551.6 127.4 L552.1 127.1 L552.5 126.7 L552.8 126.2 L553.0 125.7 L553.2 125.1 L553.2 124.5 L553.1 123.9 L552.9 123.3 L552.6 122.8 L552.2 122.3 L551.7 121.9 L551.1 121.6 L550.5 121.4 L549.8 121.3 L549.2 121.3 L548.5 121.5Z"/>
<path class="ln" d="M557.500 124.500 C561 121.500 564.500 119 567.800 116.300 M538 119 C541 117 545 116.500 548.500 117.500"/>
<path class="lf" d="M574.3 123.9 L573.3 123.1 L572.2 122.5 L571.0 122.2 L569.7 122.0 L568.4 122.0 L567.2 122.4 L566.0 122.9 L564.9 123.6 L564.0 124.6 L563.3 125.7 L562.8 126.9 L562.6 128.2 L562.6 129.4 L562.8 130.7 L563.3 131.8 L563.9 132.8 L564.8 133.7 L565.7 134.3 L566.8 134.8 L567.8 135.0 L568.9 135.0 L569.9 134.9 L570.8 134.5 L571.6 134.0 L572.2 133.5 L572.0 133.1 L571.2 133.4 L570.5 133.5 L569.7 133.5 L569.0 133.3 L568.3 133.0 L567.7 132.7 L567.2 132.2 L566.7 131.7 L566.3 131.1 L566.0 130.5 L565.8 129.9 L565.7 129.2 L565.7 128.4 L565.8 127.7 L566.1 127.0 L566.4 126.3 L566.9 125.6 L567.4 125.0 L568.1 124.5 L569.0 124.0 L569.9 123.7 L570.9 123.6 L571.9 123.6 L573.0 123.8 L574.1 124.3Z"/>
<path class="ln" d="M566 126.500 C568 124.500 571 124 573.500 125 M565 130 C566.500 128 569 127.500 571 128.500 M565.500 134 C567 132.500 569 132.500 570.500 133.500"/>
<path class="lf" d="M562.9 131.0 L562.7 131.5 L562.6 132.1 L562.5 132.7 L562.5 133.3 L562.6 133.9 L562.7 134.5 L562.9 135.0 L563.2 135.6 L563.5 136.1 L563.8 136.6 L564.3 137.0 L564.7 137.4 L565.2 137.8 L565.8 138.1 L566.4 138.4 L567.0 138.6 L567.0 138.4 L566.6 138.0 L566.1 137.6 L565.7 137.2 L565.4 136.8 L565.0 136.4 L564.7 135.9 L564.5 135.5 L564.2 135.0 L564.0 134.6 L563.8 134.1 L563.6 133.6 L563.4 133.2 L563.3 132.6 L563.2 132.1 L563.1 131.6 L563.1 131.0Z"/>
<path class="lf" d="M548.4 138.4 L549.0 138.9 L549.7 139.5 L550.4 139.9 L551.2 140.3 L552.0 140.6 L552.8 140.8 L553.7 141.0 L554.6 141.0 L555.5 140.9 L556.4 140.8 L557.2 140.5 L558.1 140.2 L558.9 139.8 L559.6 139.3 L560.4 138.7 L561.1 138.1 L560.9 137.9 L560.1 138.2 L559.3 138.5 L558.4 138.6 L557.6 138.8 L556.8 138.9 L556.1 138.9 L555.3 139.0 L554.5 139.0 L553.8 139.0 L553.1 139.0 L552.3 138.9 L551.6 138.9 L550.8 138.8 L550.1 138.6 L549.3 138.5 L548.6 138.2Z"/>
<path class="lf" d="M544.1 152.1 L544.5 151.3 L544.7 150.4 L544.8 149.5 L544.7 148.7 L544.4 147.8 L544.0 147.1 L543.5 146.4 L542.8 145.8 L542.1 145.4 L541.3 145.1 L540.5 144.9 L539.7 144.9 L538.8 145.1 L538.1 145.4 L537.4 145.8 L536.9 146.4 L536.4 147.0 L536.1 147.7 L535.9 148.4 L535.9 149.1 L536.0 149.8 L536.2 150.4 L536.5 151.0 L536.9 151.5 L537.4 151.8 L537.9 152.1 L538.5 152.2 L539.0 152.3 L539.5 152.2 L539.9 152.1 L540.3 151.8 L540.6 151.5 L540.8 151.2 L540.9 150.9 L540.7 150.7 L540.5 150.9 L540.2 151.0 L539.9 151.1 L539.7 151.1 L539.4 151.1 L539.1 151.0 L538.9 150.9 L538.6 150.7 L538.4 150.5 L538.3 150.3 L538.1 150.0 L538.0 149.7 L538.0 149.4 L538.0 149.1 L538.0 148.8 L538.1 148.4 L538.3 148.1 L538.5 147.8 L538.8 147.5 L539.1 147.3 L539.5 147.1 L539.9 146.9 L540.4 146.9 L540.9 146.9 L541.4 147.0 L542.0 147.2 L542.5 147.5 L542.9 147.9 L543.3 148.4 L543.7 149.0 L543.9 149.7 L544.0 150.4 L543.9 151.1 L543.8 151.9Z"/>
<path class="lf" d="M552.5 149.7 L552.7 149.0 L552.8 148.2 L552.7 147.4 L552.5 146.6 L552.1 145.9 L551.6 145.2 L551.0 144.7 L550.4 144.3 L549.6 144.0 L548.9 143.9 L548.1 143.8 L547.3 144.0 L546.6 144.3 L546.0 144.7 L545.4 145.2 L545.0 145.7 L544.7 146.4 L544.5 147.0 L544.5 147.7 L544.6 148.4 L544.8 149.0 L545.1 149.5 L545.4 150.0 L545.9 150.3 L546.4 150.6 L546.9 150.7 L547.4 150.8 L547.9 150.7 L548.3 150.6 L548.7 150.4 L549.0 150.1 L549.2 149.8 L549.3 149.5 L549.1 149.3 L548.9 149.5 L548.6 149.6 L548.4 149.7 L548.1 149.7 L547.8 149.7 L547.6 149.6 L547.3 149.5 L547.1 149.3 L546.9 149.1 L546.7 148.9 L546.6 148.6 L546.5 148.3 L546.4 148.0 L546.4 147.7 L546.5 147.4 L546.6 147.1 L546.7 146.8 L546.9 146.5 L547.2 146.2 L547.5 145.9 L547.9 145.8 L548.3 145.6 L548.8 145.6 L549.3 145.6 L549.8 145.7 L550.3 145.9 L550.7 146.2 L551.2 146.6 L551.6 147.0 L551.9 147.6 L552.1 148.2 L552.2 148.9 L552.1 149.7Z"/>
<path class="lf" d="M536.1 146.6 L536.9 146.1 L537.8 145.6 L538.7 145.3 L539.6 145.0 L540.5 144.7 L541.4 144.5 L542.3 144.4 L543.3 144.2 L544.3 144.2 L545.3 144.2 L546.4 144.2 L547.4 144.2 L548.5 144.4 L549.7 144.5 L550.8 144.8 L552.0 145.1 L552.0 144.9 L551.0 144.4 L549.9 143.9 L548.7 143.5 L547.6 143.1 L546.5 142.9 L545.4 142.8 L544.3 142.7 L543.2 142.8 L542.1 142.9 L541.1 143.1 L540.1 143.5 L539.1 143.9 L538.2 144.4 L537.4 145.0 L536.6 145.7 L535.9 146.4Z"/>
<path class="lf" d="M578.2 138.9 L577.4 138.1 L576.5 137.4 L575.4 136.9 L574.3 136.6 L573.2 136.5 L572.0 136.6 L570.9 136.9 L569.9 137.5 L569.0 138.2 L568.2 139.0 L567.7 140.0 L567.3 141.1 L567.1 142.2 L567.2 143.3 L567.4 144.3 L567.8 145.3 L568.4 146.1 L569.2 146.8 L570.0 147.4 L570.9 147.7 L571.8 147.9 L572.7 147.8 L573.6 147.6 L574.3 147.3 L574.9 146.8 L575.4 146.3 L575.8 145.7 L576.0 145.0 L576.0 144.4 L576.0 143.9 L575.8 143.4 L575.5 143.4 L575.4 143.8 L575.1 144.2 L574.9 144.5 L574.5 144.8 L574.2 144.9 L573.8 145.1 L573.4 145.1 L573.0 145.1 L572.7 145.1 L572.3 145.0 L571.9 144.8 L571.6 144.6 L571.3 144.3 L571.0 144.0 L570.8 143.6 L570.6 143.2 L570.5 142.7 L570.4 142.2 L570.4 141.7 L570.5 141.1 L570.7 140.6 L571.1 140.0 L571.5 139.5 L572.0 139.0 L572.7 138.6 L573.4 138.3 L574.2 138.2 L575.1 138.2 L576.1 138.3 L577.0 138.6 L577.9 139.2Z"/>
<path class="lf" d="M563.4 140.5 L563.0 141.1 L562.7 141.7 L562.5 142.4 L562.3 143.1 L562.1 143.7 L562.1 144.4 L562.1 145.1 L562.2 145.8 L562.3 146.5 L562.6 147.1 L562.9 147.8 L563.3 148.4 L563.7 149.0 L564.2 149.5 L564.8 150.1 L565.4 150.6 L565.6 150.4 L565.1 149.8 L564.7 149.2 L564.4 148.5 L564.1 147.9 L563.9 147.3 L563.7 146.7 L563.6 146.1 L563.5 145.6 L563.4 145.0 L563.3 144.4 L563.3 143.8 L563.2 143.2 L563.3 142.5 L563.3 141.9 L563.4 141.2 L563.6 140.5Z"/>
<path class="lf" d="M579.9 139.6 L580.2 140.3 L580.5 141.0 L580.9 141.7 L581.4 142.3 L582.0 142.9 L582.6 143.4 L583.4 143.8 L584.1 144.1 L585.0 144.2 L585.8 144.3 L586.7 144.2 L587.6 144.0 L588.6 143.7 L589.5 143.3 L590.4 142.8 L591.3 142.1 L591.1 141.9 L590.1 142.2 L589.2 142.5 L588.3 142.6 L587.4 142.7 L586.7 142.7 L585.9 142.6 L585.3 142.5 L584.7 142.3 L584.0 142.1 L583.5 141.9 L582.9 141.6 L582.3 141.3 L581.7 140.9 L581.2 140.5 L580.6 140.0 L580.1 139.4Z"/>
<path class="lf" d="M580.9 146.1 L581.4 146.6 L582.0 147.1 L582.6 147.6 L583.2 148.0 L583.9 148.3 L584.5 148.6 L585.2 148.8 L586.0 148.9 L586.7 148.9 L587.4 148.9 L588.1 148.8 L588.8 148.6 L589.5 148.3 L590.1 148.0 L590.7 147.6 L591.3 147.1 L591.1 146.9 L590.5 147.1 L589.8 147.3 L589.2 147.4 L588.6 147.5 L587.9 147.6 L587.3 147.6 L586.7 147.5 L586.1 147.5 L585.5 147.4 L584.9 147.3 L584.2 147.2 L583.6 147.0 L583.0 146.8 L582.3 146.6 L581.7 146.3 L581.1 145.9Z"/>
<path class="sv" d="M552.300 147.300 C555 150 560 151 566 151.200 C573 151.500 580 152 585.500 154.500 L585 158.800 C579 158 572 157.300 566 156 C560 154.800 555 152 552.300 147.300 Z"/>
<path class="sv" d="M590 160.500 C585.500 158.300 579 158.500 574.500 161.500 C571 164 569.500 168.500 565.800 172.600 C572 174.300 579 172.800 583.500 169.300 C586.500 167 588.800 164 590 160.500 Z"/>
<path class="ln" d="M587 161.500 C582.500 162 578 164.500 575 168"/>
<path class="lf" d="M570.2 156.4 L568.8 155.5 L567.2 154.9 L565.6 154.5 L564.0 154.5 L562.3 154.7 L560.8 155.2 L559.4 155.9 L558.2 156.9 L557.1 158.1 L556.3 159.4 L555.7 160.9 L555.4 162.4 L555.4 163.9 L555.7 165.4 L556.2 166.8 L556.9 168.0 L557.8 169.2 L558.9 170.1 L560.1 170.8 L561.4 171.2 L562.8 171.5 L564.1 171.4 L565.5 171.2 L566.7 170.7 L567.8 170.0 L568.7 169.2 L569.5 168.2 L570.1 167.1 L570.4 165.9 L570.5 164.8 L570.5 163.6 L570.2 162.5 L569.7 161.5 L569.1 160.6 L568.4 159.9 L567.5 159.3 L566.6 158.9 L565.6 158.7 L564.7 158.7 L563.8 158.8 L563.0 159.1 L562.2 159.5 L561.6 160.0 L561.1 160.6 L560.7 161.3 L560.5 162.0 L560.5 162.7 L560.5 163.4 L560.7 164.0 L561.0 164.5 L561.3 164.9 L561.7 165.3 L562.1 165.5 L562.6 165.6 L563.0 165.7 L563.4 165.6 L563.4 165.3 L563.1 165.3 L562.8 165.1 L562.5 164.9 L562.2 164.7 L562.0 164.4 L561.9 164.0 L561.8 163.6 L561.8 163.2 L561.9 162.8 L562.0 162.4 L562.2 162.1 L562.5 161.7 L562.8 161.4 L563.2 161.1 L563.7 161.0 L564.2 160.9 L564.7 160.8 L565.3 160.9 L565.8 161.1 L566.3 161.4 L566.8 161.7 L567.2 162.2 L567.5 162.7 L567.8 163.3 L567.9 164.0 L568.0 164.7 L567.9 165.4 L567.6 166.1 L567.3 166.8 L566.8 167.4 L566.2 168.0 L565.5 168.4 L564.7 168.8 L563.9 169.0 L562.9 169.0 L562.0 168.9 L561.1 168.6 L560.2 168.2 L559.3 167.6 L558.6 166.8 L558.0 165.9 L557.6 164.8 L557.3 163.7 L557.2 162.5 L557.4 161.3 L557.8 160.1 L558.4 159.0 L559.2 157.9 L560.2 157.0 L561.3 156.3 L562.6 155.7 L564.0 155.4 L565.5 155.4 L567.0 155.6 L568.5 156.1 L569.9 156.8Z"/>
<path class="lf" d="M589.5 167.0 L588.5 167.5 L587.5 168.1 L586.7 168.7 L585.8 169.5 L585.1 170.4 L584.5 171.4 L584.0 172.4 L583.6 173.6 L583.3 174.7 L583.2 175.9 L583.2 177.2 L583.4 178.4 L583.7 179.7 L584.1 180.9 L584.6 182.1 L585.2 183.3 L585.4 183.3 L585.6 181.9 L585.9 180.6 L586.2 179.4 L586.6 178.3 L586.9 177.3 L587.3 176.4 L587.6 175.6 L587.8 174.7 L588.0 173.9 L588.2 173.1 L588.3 172.2 L588.5 171.3 L588.6 170.3 L588.9 169.3 L589.2 168.2 L589.6 167.1Z"/>
<path class="lf" d="M588.5 167.9 L587.6 168.0 L586.8 168.1 L585.9 168.3 L585.1 168.5 L584.2 168.8 L583.4 169.2 L582.6 169.6 L581.8 170.1 L581.0 170.7 L580.3 171.3 L579.7 172.0 L579.1 172.8 L578.5 173.6 L578.0 174.4 L577.6 175.3 L577.2 176.1 L577.4 176.3 L578.1 175.6 L578.8 175.0 L579.5 174.4 L580.2 173.9 L580.9 173.4 L581.6 172.9 L582.3 172.4 L583.0 171.9 L583.7 171.4 L584.4 170.9 L585.1 170.5 L585.8 170.0 L586.5 169.5 L587.2 169.0 L587.8 168.5 L588.5 168.1Z"/>
<path class="ln" d="M577.300 176.200 C576.300 177 575.800 178 576 179.200 M585 183.300 C584.200 184.200 583.800 185 584 186"/>
</g>
<g transform="translate(1182.4 0) scale(-1 1)">
<g class="top">
<path class="lf" d="M544.4 78.2 L542.4 79.1 L540.4 79.5 L538.3 79.6 L536.2 79.4 L534.3 78.7 L532.5 77.8 L530.8 76.6 L529.5 75.1 L528.4 73.4 L527.6 71.6 L527.1 69.7 L527.0 67.7 L527.2 65.7 L527.7 63.8 L528.5 62.0 L529.6 60.4 L531.0 59.0 L532.6 57.9 L534.4 57.0 L536.3 56.5 L538.3 56.2 L540.3 56.3 L542.3 56.8 L544.1 57.6 L545.9 58.7 L547.4 60.1 L548.6 61.7 L549.6 63.6 L550.2 65.6 L550.5 67.7 L551.3 67.7 L551.2 65.4 L550.7 63.2 L549.8 61.1 L548.5 59.1 L546.9 57.4 L545.1 56.0 L543.0 54.9 L540.7 54.2 L538.3 54.0 L535.9 54.1 L533.6 54.7 L531.4 55.7 L529.4 57.1 L527.7 58.8 L526.3 60.8 L525.2 62.9 L524.6 65.3 L524.4 67.7 L524.7 70.1 L525.4 72.4 L526.4 74.6 L527.8 76.5 L529.6 78.1 L531.5 79.4 L533.7 80.3 L536.0 80.9 L538.3 81.0 L540.6 80.7 L542.8 80.0 L544.8 79.0Z"/>
<path class="lf" d="M546.8 65.1 L547.1 66.5 L547.1 68.0 L546.9 69.4 L546.5 70.8 L545.8 72.0 L544.9 73.1 L543.9 74.0 L542.7 74.7 L541.4 75.2 L540.1 75.5 L538.8 75.6 L537.5 75.4 L536.3 75.0 L535.1 74.4 L534.1 73.7 L533.2 72.8 L532.4 71.7 L531.9 70.5 L531.6 69.3 L531.4 68.0 L531.5 66.7 L531.8 65.5 L532.4 64.3 L533.1 63.2 L534.0 62.3 L535.0 61.5 L536.2 60.9 L537.5 60.5 L538.8 60.3 L540.2 60.4 L540.2 59.9 L538.8 59.6 L537.3 59.7 L535.9 60.0 L534.5 60.5 L533.2 61.3 L532.0 62.3 L531.1 63.5 L530.3 64.9 L529.8 66.4 L529.6 68.0 L529.7 69.6 L530.1 71.2 L530.7 72.6 L531.6 74.0 L532.7 75.2 L534.1 76.2 L535.6 76.9 L537.1 77.3 L538.8 77.4 L540.4 77.3 L542.0 76.9 L543.5 76.1 L544.8 75.2 L545.9 74.0 L546.8 72.7 L547.5 71.2 L547.9 69.6 L548.0 68.0 L547.8 66.4 L547.3 64.9Z"/>
<path class="ln" d="M533 62.500 C535.500 65 537.500 67.500 538.500 71 M543.500 62 C542 65 540 68.500 538.500 71.500 C538 75 536 76.500 533.500 75 M536 62 C537.500 63 538.500 64.500 539 66.500"/>
<path class="lf" d="M535.9 80.3 L534.6 81.1 L533.4 81.6 L532.2 82.1 L531.0 82.4 L529.8 82.6 L528.6 82.7 L527.5 82.7 L526.4 82.7 L525.3 82.5 L524.3 82.3 L523.2 82.1 L522.2 81.7 L521.2 81.3 L520.3 80.8 L519.4 80.2 L518.5 79.4 L518.3 79.6 L518.9 80.6 L519.6 81.6 L520.5 82.4 L521.4 83.2 L522.5 83.8 L523.7 84.3 L524.9 84.7 L526.2 84.8 L527.5 84.9 L528.9 84.7 L530.2 84.4 L531.5 84.0 L532.7 83.3 L533.9 82.6 L535.1 81.7 L536.1 80.7Z"/>
<path class="lf" d="M519.8 80.7 L519.5 80.5 L519.3 80.2 L519.1 79.9 L519.0 79.6 L519.0 79.3 L519.0 79.0 L519.0 78.8 L519.1 78.5 L519.2 78.3 L519.4 78.2 L519.5 78.0 L519.7 77.9 L519.9 77.9 L520.1 77.8 L520.2 77.8 L520.4 77.8 L520.5 77.8 L520.7 77.9 L520.8 78.0 L520.9 78.0 L521.0 78.1 L521.1 78.3 L521.2 78.4 L521.2 78.5 L521.2 78.7 L521.4 78.7 L521.5 78.6 L521.6 78.4 L521.6 78.2 L521.6 77.9 L521.5 77.7 L521.4 77.4 L521.2 77.2 L520.9 77.0 L520.6 76.9 L520.3 76.8 L519.9 76.8 L519.6 76.9 L519.3 77.0 L518.9 77.3 L518.7 77.5 L518.4 77.9 L518.3 78.2 L518.2 78.6 L518.2 79.0 L518.3 79.4 L518.4 79.8 L518.6 80.2 L518.9 80.5 L519.3 80.8 L519.6 81.0Z"/>
<path class="lf" d="M523.1 83.1 L523.7 82.7 L524.3 82.5 L524.9 82.3 L525.6 82.2 L526.2 82.1 L526.7 82.1 L527.3 82.1 L527.9 82.2 L528.5 82.3 L529.1 82.4 L529.7 82.6 L530.3 82.9 L531.0 83.2 L531.6 83.6 L532.3 84.0 L532.9 84.6 L533.1 84.4 L532.6 83.7 L532.0 83.1 L531.5 82.5 L530.9 82.0 L530.2 81.6 L529.5 81.2 L528.8 81.0 L528.1 80.8 L527.4 80.8 L526.6 80.8 L525.9 80.9 L525.3 81.2 L524.6 81.5 L524.0 81.9 L523.5 82.4 L522.9 82.9Z"/>
<path class="rb" d="M542 48.300 C552 43.500 563 39.200 573.500 36.300 L575.500 42.600 C565 45.500 555 49.500 547 54.800 Z"/>
<path class="rb2" d="M542 48.300 C540.500 50.500 541.500 53.500 544 55 L547 54.800 C545 53 544.500 51 545.500 49.500 Z"/>
<path class="rb2" d="M573.500 36.300 L578.500 35.200 L580 41.500 L575.500 42.600 Z"/>
<path class="lf" d="M570.9 52.4 L570.2 51.8 L569.3 51.2 L568.4 50.8 L567.4 50.6 L566.4 50.5 L565.4 50.6 L564.5 51.0 L563.6 51.4 L562.9 52.0 L562.2 52.8 L561.7 53.6 L561.4 54.5 L561.3 55.4 L561.3 56.4 L561.5 57.3 L561.9 58.1 L562.4 58.8 L563.0 59.4 L563.7 59.9 L564.4 60.2 L565.2 60.4 L566.0 60.4 L566.7 60.2 L567.4 60.0 L567.9 59.6 L568.4 59.2 L568.8 58.6 L569.0 58.1 L569.1 57.6 L569.1 57.0 L569.0 56.6 L568.8 56.1 L568.6 55.8 L568.3 55.9 L568.4 56.3 L568.3 56.6 L568.3 57.0 L568.1 57.3 L567.9 57.6 L567.7 57.8 L567.4 58.0 L567.0 58.2 L566.7 58.3 L566.3 58.3 L565.9 58.3 L565.5 58.3 L565.2 58.1 L564.8 57.9 L564.5 57.7 L564.1 57.3 L563.9 57.0 L563.7 56.5 L563.5 56.0 L563.5 55.5 L563.5 54.9 L563.6 54.4 L563.9 53.8 L564.2 53.3 L564.7 52.8 L565.2 52.4 L565.9 52.0 L566.6 51.8 L567.4 51.7 L568.2 51.7 L569.0 51.9 L569.9 52.2 L570.7 52.8Z"/>
<path class="lf" d="M552.0 58.9 L552.5 58.2 L553.1 57.7 L553.7 57.3 L554.4 57.0 L555.1 56.9 L555.8 56.8 L556.4 56.9 L557.0 57.1 L557.5 57.4 L557.9 57.8 L558.3 58.1 L558.6 58.6 L558.8 59.0 L558.9 59.5 L558.9 59.9 L558.9 60.3 L558.8 60.7 L558.6 61.1 L558.4 61.4 L558.2 61.7 L557.9 61.9 L557.6 62.1 L557.3 62.2 L557.0 62.3 L556.6 62.3 L556.3 62.3 L556.0 62.2 L555.7 62.0 L555.5 61.9 L555.3 61.6 L555.1 61.4 L554.8 61.4 L554.8 61.8 L554.9 62.2 L555.2 62.6 L555.5 63.0 L555.9 63.3 L556.4 63.5 L556.9 63.7 L557.5 63.7 L558.1 63.6 L558.7 63.4 L559.3 63.1 L559.8 62.6 L560.3 62.1 L560.6 61.4 L560.8 60.7 L560.9 59.9 L560.8 59.1 L560.6 58.3 L560.2 57.6 L559.7 56.9 L559.0 56.4 L558.3 55.9 L557.5 55.6 L556.6 55.5 L555.7 55.5 L554.8 55.7 L554.0 56.1 L553.2 56.5 L552.6 57.2 L552.0 57.9 L551.6 58.7Z"/>
<path class="lf" d="M551.1 52.1 L552.1 51.6 L553.1 51.1 L554.2 50.7 L555.3 50.4 L556.4 50.1 L557.5 49.9 L558.7 49.7 L559.8 49.5 L561.0 49.4 L562.2 49.3 L563.5 49.3 L564.7 49.3 L566.0 49.4 L567.3 49.6 L568.6 49.8 L570.0 50.1 L570.0 49.9 L568.8 49.4 L567.5 48.9 L566.2 48.5 L564.8 48.2 L563.5 48.0 L562.2 47.9 L560.9 47.9 L559.7 48.0 L558.4 48.2 L557.2 48.5 L556.0 48.9 L554.9 49.3 L553.8 49.9 L552.8 50.5 L551.8 51.2 L550.9 51.9Z"/>
<path class="lf" d="M571.9 51.1 L572.4 51.7 L572.8 52.4 L573.1 53.1 L573.5 53.8 L573.8 54.4 L574.0 55.1 L574.3 55.8 L574.6 56.5 L574.8 57.1 L575.0 57.8 L575.2 58.6 L575.4 59.3 L575.6 60.1 L575.7 60.8 L575.8 61.6 L575.9 62.5 L576.1 62.5 L576.3 61.7 L576.5 60.8 L576.6 60.0 L576.6 59.2 L576.6 58.3 L576.5 57.5 L576.3 56.7 L576.1 55.9 L575.8 55.2 L575.4 54.4 L575.0 53.8 L574.5 53.1 L573.9 52.5 L573.3 51.9 L572.7 51.4 L572.1 50.9Z"/>
<path class="lf" d="M548.0 67.6 L549.1 67.3 L550.1 67.1 L551.1 66.9 L552.2 66.8 L553.3 66.8 L554.4 66.8 L555.5 66.8 L556.6 66.8 L557.7 66.9 L558.8 67.0 L560.0 67.2 L561.2 67.4 L562.4 67.6 L563.6 67.9 L564.8 68.2 L566.0 68.6 L566.0 68.4 L565.0 67.7 L563.9 67.1 L562.7 66.6 L561.5 66.1 L560.3 65.7 L559.1 65.4 L557.9 65.2 L556.7 65.0 L555.5 65.0 L554.3 65.1 L553.1 65.3 L552.0 65.5 L550.9 65.9 L549.8 66.3 L548.9 66.8 L548.0 67.4Z"/>
<path class="lf" d="M554.8 78.1 L554.4 77.4 L553.9 76.7 L553.3 76.1 L552.6 75.7 L551.8 75.4 L551.0 75.2 L550.2 75.2 L549.4 75.3 L548.6 75.6 L548.0 76.0 L547.4 76.5 L546.9 77.1 L546.5 77.8 L546.3 78.5 L546.2 79.2 L546.3 80.0 L546.5 80.6 L546.8 81.3 L547.2 81.8 L547.7 82.2 L548.2 82.6 L548.8 82.8 L549.4 82.9 L549.9 82.8 L550.5 82.7 L550.9 82.5 L551.3 82.2 L551.6 81.8 L551.8 81.5 L552.0 81.1 L552.0 80.7 L552.0 80.4 L551.7 80.3 L551.5 80.6 L551.4 80.8 L551.2 81.0 L551.0 81.2 L550.7 81.3 L550.4 81.4 L550.1 81.4 L549.9 81.4 L549.6 81.3 L549.3 81.2 L549.0 81.1 L548.8 80.9 L548.6 80.6 L548.4 80.3 L548.2 80.0 L548.1 79.6 L548.1 79.3 L548.1 78.9 L548.2 78.4 L548.4 78.0 L548.7 77.6 L549.0 77.3 L549.4 77.0 L549.9 76.7 L550.4 76.5 L551.0 76.4 L551.6 76.5 L552.2 76.6 L552.8 76.8 L553.4 77.2 L554.0 77.7 L554.5 78.3Z"/>
<path class="lf" d="M567.0 79.4 L567.4 78.5 L567.6 77.6 L567.6 76.6 L567.5 75.7 L567.2 74.8 L566.8 74.0 L566.2 73.3 L565.5 72.7 L564.8 72.2 L563.9 71.9 L563.0 71.8 L562.2 71.8 L561.3 71.9 L560.5 72.3 L559.8 72.7 L559.2 73.3 L558.8 74.0 L558.4 74.7 L558.2 75.4 L558.2 76.2 L558.3 76.9 L558.5 77.5 L558.9 78.1 L559.3 78.6 L559.8 79.0 L560.4 79.3 L560.9 79.4 L561.5 79.4 L562.0 79.4 L562.4 79.2 L562.8 79.0 L563.1 78.7 L563.3 78.4 L563.1 78.1 L562.8 78.3 L562.5 78.4 L562.2 78.4 L561.9 78.4 L561.6 78.3 L561.3 78.2 L561.0 78.0 L560.8 77.8 L560.6 77.5 L560.4 77.2 L560.3 76.9 L560.2 76.5 L560.2 76.1 L560.3 75.8 L560.4 75.4 L560.6 75.0 L560.8 74.7 L561.1 74.3 L561.5 74.1 L561.9 73.8 L562.4 73.7 L563.0 73.6 L563.5 73.7 L564.1 73.8 L564.7 74.0 L565.2 74.4 L565.7 74.8 L566.2 75.4 L566.5 76.0 L566.8 76.8 L566.9 77.5 L566.8 78.4 L566.6 79.2Z"/>
<path class="lf" d="M570.4 78.5 L570.7 77.8 L571.1 77.3 L571.6 76.8 L572.2 76.5 L572.7 76.3 L573.3 76.2 L573.9 76.1 L574.4 76.2 L574.9 76.4 L575.3 76.6 L575.7 76.9 L576.0 77.2 L576.2 77.6 L576.4 77.9 L576.5 78.3 L576.5 78.7 L576.5 79.0 L576.4 79.4 L576.3 79.7 L576.1 80.0 L575.9 80.2 L575.7 80.4 L575.5 80.6 L575.2 80.7 L574.9 80.7 L574.6 80.8 L574.3 80.7 L574.1 80.7 L573.8 80.5 L573.6 80.4 L573.4 80.2 L573.1 80.3 L573.2 80.6 L573.4 81.0 L573.6 81.3 L574.0 81.5 L574.4 81.8 L574.8 81.9 L575.3 81.9 L575.9 81.9 L576.4 81.7 L576.9 81.4 L577.4 81.0 L577.8 80.6 L578.1 80.0 L578.2 79.4 L578.3 78.7 L578.2 78.0 L578.0 77.3 L577.7 76.7 L577.3 76.1 L576.7 75.6 L576.1 75.2 L575.4 75.0 L574.6 74.8 L573.8 74.8 L573.1 75.0 L572.3 75.3 L571.6 75.7 L571.1 76.2 L570.6 76.9 L570.2 77.6 L570.0 78.4Z"/>
<path class="lf" d="M543.0 73.1 L543.9 72.7 L544.7 72.5 L545.5 72.2 L546.3 72.1 L547.1 71.9 L547.9 71.8 L548.7 71.8 L549.5 71.8 L550.3 71.8 L551.1 71.8 L551.9 71.9 L552.7 72.1 L553.5 72.2 L554.3 72.5 L555.1 72.7 L556.0 73.1 L556.0 72.9 L555.3 72.4 L554.6 71.9 L553.8 71.5 L553.0 71.1 L552.1 70.8 L551.3 70.6 L550.4 70.5 L549.5 70.5 L548.6 70.5 L547.7 70.6 L546.9 70.8 L546.0 71.1 L545.2 71.5 L544.4 71.9 L543.7 72.4 L543.0 72.9Z"/>
<path class="lf" d="M566.0 70.1 L567.0 69.9 L568.0 69.8 L569.0 69.7 L569.9 69.8 L570.9 69.8 L571.8 70.0 L572.8 70.1 L573.7 70.3 L574.6 70.6 L575.5 70.8 L576.4 71.2 L577.4 71.5 L578.3 72.0 L579.2 72.4 L580.1 73.0 L580.9 73.6 L581.1 73.4 L580.4 72.6 L579.6 71.8 L578.8 71.1 L578.0 70.4 L577.1 69.9 L576.1 69.4 L575.1 69.0 L574.1 68.7 L573.0 68.5 L572.0 68.4 L570.9 68.4 L569.9 68.5 L568.8 68.7 L567.8 69.0 L566.9 69.4 L566.0 69.9Z"/>
<path class="lf" d="M556.0 84.6 L556.9 85.0 L557.8 85.4 L558.8 85.7 L559.8 86.0 L560.9 86.2 L561.9 86.3 L562.9 86.4 L564.0 86.4 L565.1 86.4 L566.1 86.3 L567.1 86.2 L568.2 86.0 L569.2 85.7 L570.2 85.4 L571.1 85.0 L572.0 84.6 L572.0 84.4 L571.0 84.6 L570.0 84.8 L569.0 85.0 L568.0 85.1 L567.0 85.1 L566.0 85.2 L565.0 85.2 L564.0 85.2 L563.0 85.2 L562.0 85.2 L561.0 85.1 L560.0 85.1 L559.0 85.0 L558.0 84.8 L557.0 84.6 L556.0 84.4Z"/>
<path class="lf" d="M580.0 77.1 L580.7 77.5 L581.4 77.8 L582.0 78.2 L582.7 78.6 L583.4 79.1 L584.1 79.5 L584.7 79.9 L585.4 80.3 L586.1 80.8 L586.8 81.2 L587.5 81.6 L588.2 82.1 L589.0 82.5 L589.7 83.0 L590.4 83.5 L591.1 84.1 L591.3 83.9 L590.8 83.2 L590.2 82.4 L589.7 81.7 L589.1 81.1 L588.5 80.4 L587.8 79.8 L587.1 79.3 L586.4 78.8 L585.6 78.4 L584.8 78.0 L584.1 77.7 L583.3 77.4 L582.4 77.2 L581.6 77.1 L580.8 77.0 L580.0 76.9Z"/>
<path class="lf" d="M590.6 79.2 L589.0 78.9 L587.5 78.4 L586.0 77.8 L584.6 77.1 L583.2 76.3 L581.9 75.4 L580.7 74.5 L579.6 73.5 L578.5 72.4 L577.5 71.2 L576.5 69.9 L575.7 68.6 L574.9 67.1 L574.3 65.6 L573.9 65.7 L574.1 67.4 L574.5 69.0 L575.1 70.7 L575.8 72.3 L576.8 73.7 L577.9 75.1 L579.2 76.3 L580.6 77.4 L582.1 78.3 L583.8 78.9 L585.4 79.4 L587.2 79.7 L588.9 79.8 L590.6 79.7Z"/>
<path class="lf" d="M578.9 68.0 L579.3 69.0 L579.7 70.0 L580.2 70.9 L580.8 71.8 L581.4 72.7 L582.1 73.5 L582.8 74.2 L583.6 74.9 L584.4 75.5 L585.3 76.0 L586.2 76.5 L587.2 76.9 L588.2 77.2 L589.2 77.4 L590.2 77.6 L591.2 77.6 L591.2 77.4 L590.3 77.0 L589.4 76.6 L588.5 76.2 L587.7 75.7 L586.9 75.3 L586.1 74.7 L585.3 74.2 L584.6 73.6 L583.8 73.0 L583.1 72.4 L582.4 71.8 L581.7 71.1 L581.0 70.4 L580.3 69.6 L579.7 68.8 L579.1 68.0Z"/>
</g>
<g class="bot">
<path class="lf" d="M527.4 127.4 L528.2 126.9 L528.9 126.4 L529.6 126.2 L530.2 126.0 L530.9 125.9 L531.4 125.9 L532.0 126.0 L532.5 126.1 L533.0 126.3 L533.5 126.6 L534.0 126.9 L534.5 127.4 L535.0 127.8 L535.4 128.4 L535.8 129.0 L536.1 129.7 L536.9 129.3 L536.6 128.6 L536.3 127.8 L535.9 127.1 L535.4 126.5 L534.9 126.0 L534.3 125.5 L533.6 125.1 L532.9 124.8 L532.2 124.6 L531.4 124.6 L530.7 124.7 L529.9 125.0 L529.2 125.3 L528.5 125.8 L527.8 126.5 L527.2 127.2Z"/>
<path class="lf" d="M536.1 129.6 L536.4 130.5 L536.8 131.3 L537.2 132.0 L537.8 132.7 L538.4 133.3 L539.1 133.7 L539.8 134.1 L540.6 134.3 L541.5 134.5 L542.3 134.5 L543.2 134.4 L544.0 134.2 L544.8 133.9 L545.6 133.5 L546.4 133.0 L547.1 132.5 L546.9 132.1 L546.1 132.5 L545.3 132.8 L544.5 132.9 L543.8 133.1 L543.0 133.1 L542.3 133.1 L541.6 133.0 L541.0 132.9 L540.4 132.7 L539.8 132.4 L539.2 132.1 L538.7 131.7 L538.1 131.3 L537.7 130.7 L537.2 130.1 L536.9 129.4Z"/>
<path class="sv" d="M544.5 122.6 L545.2 121.5 L546.1 120.6 L547.0 119.9 L548.1 119.3 L549.2 119.0 L550.3 118.9 L551.4 118.9 L552.4 119.2 L553.4 119.6 L554.3 120.1 L555.0 120.8 L555.6 121.6 L556.1 122.4 L556.4 123.3 L556.6 124.3 L556.6 125.2 L556.5 126.2 L556.2 127.1 L555.8 127.9 L555.2 128.7 L554.6 129.4 L553.8 129.9 L552.9 130.4 L551.9 130.6 L550.9 130.7 L549.8 130.6 L548.8 130.4 L547.9 129.9 L547.6 130.2 L548.5 131.0 L549.6 131.5 L550.7 131.9 L552.0 132.1 L553.3 132.0 L554.5 131.7 L555.7 131.1 L556.8 130.3 L557.8 129.3 L558.6 128.2 L559.1 126.9 L559.4 125.5 L559.4 124.0 L559.1 122.6 L558.6 121.2 L557.8 120.0 L556.9 118.9 L555.7 118.0 L554.4 117.4 L553.0 117.0 L551.5 116.9 L550.1 117.0 L548.7 117.4 L547.4 118.1 L546.3 118.9 L545.4 119.9 L544.7 121.1 L544.2 122.4Z"/>
<path class="lf" d="M548.6 121.8 L549.2 121.7 L549.8 121.8 L550.3 122.0 L550.7 122.2 L551.1 122.6 L551.5 122.9 L551.7 123.3 L551.8 123.7 L551.9 124.1 L551.9 124.5 L551.9 124.9 L551.8 125.2 L551.6 125.5 L551.4 125.8 L551.2 126.0 L551.0 126.2 L550.7 126.3 L550.4 126.4 L550.2 126.4 L549.9 126.4 L549.7 126.4 L549.5 126.3 L549.3 126.2 L549.1 126.0 L548.9 125.9 L548.8 125.7 L548.7 125.5 L548.7 125.3 L548.7 125.1 L548.7 124.8 L548.5 124.7 L548.4 124.9 L548.2 125.2 L548.2 125.5 L548.1 125.8 L548.2 126.2 L548.3 126.5 L548.6 126.9 L548.9 127.2 L549.2 127.4 L549.7 127.6 L550.1 127.7 L550.6 127.7 L551.1 127.6 L551.6 127.4 L552.1 127.1 L552.5 126.7 L552.8 126.2 L553.0 125.7 L553.2 125.1 L553.2 124.5 L553.1 123.9 L552.9 123.3 L552.6 122.8 L552.2 122.3 L551.7 121.9 L551.1 121.6 L550.5 121.4 L549.8 121.3 L549.2 121.3 L548.5 121.5Z"/>
<path class="ln" d="M557.500 124.500 C561 121.500 564.500 119 567.800 116.300 M538 119 C541 117 545 116.500 548.500 117.500"/>
<path class="lf" d="M574.3 123.9 L573.3 123.1 L572.2 122.5 L571.0 122.2 L569.7 122.0 L568.4 122.0 L567.2 122.4 L566.0 122.9 L564.9 123.6 L564.0 124.6 L563.3 125.7 L562.8 126.9 L562.6 128.2 L562.6 129.4 L562.8 130.7 L563.3 131.8 L563.9 132.8 L564.8 133.7 L565.7 134.3 L566.8 134.8 L567.8 135.0 L568.9 135.0 L569.9 134.9 L570.8 134.5 L571.6 134.0 L572.2 133.5 L572.0 133.1 L571.2 133.4 L570.5 133.5 L569.7 133.5 L569.0 133.3 L568.3 133.0 L567.7 132.7 L567.2 132.2 L566.7 131.7 L566.3 131.1 L566.0 130.5 L565.8 129.9 L565.7 129.2 L565.7 128.4 L565.8 127.7 L566.1 127.0 L566.4 126.3 L566.9 125.6 L567.4 125.0 L568.1 124.5 L569.0 124.0 L569.9 123.7 L570.9 123.6 L571.9 123.6 L573.0 123.8 L574.1 124.3Z"/>
<path class="ln" d="M566 126.500 C568 124.500 571 124 573.500 125 M565 130 C566.500 128 569 127.500 571 128.500 M565.500 134 C567 132.500 569 132.500 570.500 133.500"/>
<path class="lf" d="M562.9 131.0 L562.7 131.5 L562.6 132.1 L562.5 132.7 L562.5 133.3 L562.6 133.9 L562.7 134.5 L562.9 135.0 L563.2 135.6 L563.5 136.1 L563.8 136.6 L564.3 137.0 L564.7 137.4 L565.2 137.8 L565.8 138.1 L566.4 138.4 L567.0 138.6 L567.0 138.4 L566.6 138.0 L566.1 137.6 L565.7 137.2 L565.4 136.8 L565.0 136.4 L564.7 135.9 L564.5 135.5 L564.2 135.0 L564.0 134.6 L563.8 134.1 L563.6 133.6 L563.4 133.2 L563.3 132.6 L563.2 132.1 L563.1 131.6 L563.1 131.0Z"/>
<path class="lf" d="M548.4 138.4 L549.0 138.9 L549.7 139.5 L550.4 139.9 L551.2 140.3 L552.0 140.6 L552.8 140.8 L553.7 141.0 L554.6 141.0 L555.5 140.9 L556.4 140.8 L557.2 140.5 L558.1 140.2 L558.9 139.8 L559.6 139.3 L560.4 138.7 L561.1 138.1 L560.9 137.9 L560.1 138.2 L559.3 138.5 L558.4 138.6 L557.6 138.8 L556.8 138.9 L556.1 138.9 L555.3 139.0 L554.5 139.0 L553.8 139.0 L553.1 139.0 L552.3 138.9 L551.6 138.9 L550.8 138.8 L550.1 138.6 L549.3 138.5 L548.6 138.2Z"/>
<path class="lf" d="M544.1 152.1 L544.5 151.3 L544.7 150.4 L544.8 149.5 L544.7 148.7 L544.4 147.8 L544.0 147.1 L543.5 146.4 L542.8 145.8 L542.1 145.4 L541.3 145.1 L540.5 144.9 L539.7 144.9 L538.8 145.1 L538.1 145.4 L537.4 145.8 L536.9 146.4 L536.4 147.0 L536.1 147.7 L535.9 148.4 L535.9 149.1 L536.0 149.8 L536.2 150.4 L536.5 151.0 L536.9 151.5 L537.4 151.8 L537.9 152.1 L538.5 152.2 L539.0 152.3 L539.5 152.2 L539.9 152.1 L540.3 151.8 L540.6 151.5 L540.8 151.2 L540.9 150.9 L540.7 150.7 L540.5 150.9 L540.2 151.0 L539.9 151.1 L539.7 151.1 L539.4 151.1 L539.1 151.0 L538.9 150.9 L538.6 150.7 L538.4 150.5 L538.3 150.3 L538.1 150.0 L538.0 149.7 L538.0 149.4 L538.0 149.1 L538.0 148.8 L538.1 148.4 L538.3 148.1 L538.5 147.8 L538.8 147.5 L539.1 147.3 L539.5 147.1 L539.9 146.9 L540.4 146.9 L540.9 146.9 L541.4 147.0 L542.0 147.2 L542.5 147.5 L542.9 147.9 L543.3 148.4 L543.7 149.0 L543.9 149.7 L544.0 150.4 L543.9 151.1 L543.8 151.9Z"/>
<path class="lf" d="M552.5 149.7 L552.7 149.0 L552.8 148.2 L552.7 147.4 L552.5 146.6 L552.1 145.9 L551.6 145.2 L551.0 144.7 L550.4 144.3 L549.6 144.0 L548.9 143.9 L548.1 143.8 L547.3 144.0 L546.6 144.3 L546.0 144.7 L545.4 145.2 L545.0 145.7 L544.7 146.4 L544.5 147.0 L544.5 147.7 L544.6 148.4 L544.8 149.0 L545.1 149.5 L545.4 150.0 L545.9 150.3 L546.4 150.6 L546.9 150.7 L547.4 150.8 L547.9 150.7 L548.3 150.6 L548.7 150.4 L549.0 150.1 L549.2 149.8 L549.3 149.5 L549.1 149.3 L548.9 149.5 L548.6 149.6 L548.4 149.7 L548.1 149.7 L547.8 149.7 L547.6 149.6 L547.3 149.5 L547.1 149.3 L546.9 149.1 L546.7 148.9 L546.6 148.6 L546.5 148.3 L546.4 148.0 L546.4 147.7 L546.5 147.4 L546.6 147.1 L546.7 146.8 L546.9 146.5 L547.2 146.2 L547.5 145.9 L547.9 145.8 L548.3 145.6 L548.8 145.6 L549.3 145.6 L549.8 145.7 L550.3 145.9 L550.7 146.2 L551.2 146.6 L551.6 147.0 L551.9 147.6 L552.1 148.2 L552.2 148.9 L552.1 149.7Z"/>
<path class="lf" d="M536.1 146.6 L536.9 146.1 L537.8 145.6 L538.7 145.3 L539.6 145.0 L540.5 144.7 L541.4 144.5 L542.3 144.4 L543.3 144.2 L544.3 144.2 L545.3 144.2 L546.4 144.2 L547.4 144.2 L548.5 144.4 L549.7 144.5 L550.8 144.8 L552.0 145.1 L552.0 144.9 L551.0 144.4 L549.9 143.9 L548.7 143.5 L547.6 143.1 L546.5 142.9 L545.4 142.8 L544.3 142.7 L543.2 142.8 L542.1 142.9 L541.1 143.1 L540.1 143.5 L539.1 143.9 L538.2 144.4 L537.4 145.0 L536.6 145.7 L535.9 146.4Z"/>
<path class="lf" d="M578.2 138.9 L577.4 138.1 L576.5 137.4 L575.4 136.9 L574.3 136.6 L573.2 136.5 L572.0 136.6 L570.9 136.9 L569.9 137.5 L569.0 138.2 L568.2 139.0 L567.7 140.0 L567.3 141.1 L567.1 142.2 L567.2 143.3 L567.4 144.3 L567.8 145.3 L568.4 146.1 L569.2 146.8 L570.0 147.4 L570.9 147.7 L571.8 147.9 L572.7 147.8 L573.6 147.6 L574.3 147.3 L574.9 146.8 L575.4 146.3 L575.8 145.7 L576.0 145.0 L576.0 144.4 L576.0 143.9 L575.8 143.4 L575.5 143.4 L575.4 143.8 L575.1 144.2 L574.9 144.5 L574.5 144.8 L574.2 144.9 L573.8 145.1 L573.4 145.1 L573.0 145.1 L572.7 145.1 L572.3 145.0 L571.9 144.8 L571.6 144.6 L571.3 144.3 L571.0 144.0 L570.8 143.6 L570.6 143.2 L570.5 142.7 L570.4 142.2 L570.4 141.7 L570.5 141.1 L570.7 140.6 L571.1 140.0 L571.5 139.5 L572.0 139.0 L572.7 138.6 L573.4 138.3 L574.2 138.2 L575.1 138.2 L576.1 138.3 L577.0 138.6 L577.9 139.2Z"/>
<path class="lf" d="M563.4 140.5 L563.0 141.1 L562.7 141.7 L562.5 142.4 L562.3 143.1 L562.1 143.7 L562.1 144.4 L562.1 145.1 L562.2 145.8 L562.3 146.5 L562.6 147.1 L562.9 147.8 L563.3 148.4 L563.7 149.0 L564.2 149.5 L564.8 150.1 L565.4 150.6 L565.6 150.4 L565.1 149.8 L564.7 149.2 L564.4 148.5 L564.1 147.9 L563.9 147.3 L563.7 146.7 L563.6 146.1 L563.5 145.6 L563.4 145.0 L563.3 144.4 L563.3 143.8 L563.2 143.2 L563.3 142.5 L563.3 141.9 L563.4 141.2 L563.6 140.5Z"/>
<path class="lf" d="M579.9 139.6 L580.2 140.3 L580.5 141.0 L580.9 141.7 L581.4 142.3 L582.0 142.9 L582.6 143.4 L583.4 143.8 L584.1 144.1 L585.0 144.2 L585.8 144.3 L586.7 144.2 L587.6 144.0 L588.6 143.7 L589.5 143.3 L590.4 142.8 L591.3 142.1 L591.1 141.9 L590.1 142.2 L589.2 142.5 L588.3 142.6 L587.4 142.7 L586.7 142.7 L585.9 142.6 L585.3 142.5 L584.7 142.3 L584.0 142.1 L583.5 141.9 L582.9 141.6 L582.3 141.3 L581.7 140.9 L581.2 140.5 L580.6 140.0 L580.1 139.4Z"/>
<path class="lf" d="M580.9 146.1 L581.4 146.6 L582.0 147.1 L582.6 147.6 L583.2 148.0 L583.9 148.3 L584.5 148.6 L585.2 148.8 L586.0 148.9 L586.7 148.9 L587.4 148.9 L588.1 148.8 L588.8 148.6 L589.5 148.3 L590.1 148.0 L590.7 147.6 L591.3 147.1 L591.1 146.9 L590.5 147.1 L589.8 147.3 L589.2 147.4 L588.6 147.5 L587.9 147.6 L587.3 147.6 L586.7 147.5 L586.1 147.5 L585.5 147.4 L584.9 147.3 L584.2 147.2 L583.6 147.0 L583.0 146.8 L582.3 146.6 L581.7 146.3 L581.1 145.9Z"/>
<path class="sv" d="M552.300 147.300 C555 150 560 151 566 151.200 C573 151.500 580 152 585.500 154.500 L585 158.800 C579 158 572 157.300 566 156 C560 154.800 555 152 552.300 147.300 Z"/>
<path class="sv" d="M590 160.500 C585.500 158.300 579 158.500 574.500 161.500 C571 164 569.500 168.500 565.800 172.600 C572 174.300 579 172.800 583.500 169.300 C586.500 167 588.800 164 590 160.500 Z"/>
<path class="ln" d="M587 161.500 C582.500 162 578 164.500 575 168"/>
<path class="lf" d="M570.2 156.4 L568.8 155.5 L567.2 154.9 L565.6 154.5 L564.0 154.5 L562.3 154.7 L560.8 155.2 L559.4 155.9 L558.2 156.9 L557.1 158.1 L556.3 159.4 L555.7 160.9 L555.4 162.4 L555.4 163.9 L555.7 165.4 L556.2 166.8 L556.9 168.0 L557.8 169.2 L558.9 170.1 L560.1 170.8 L561.4 171.2 L562.8 171.5 L564.1 171.4 L565.5 171.2 L566.7 170.7 L567.8 170.0 L568.7 169.2 L569.5 168.2 L570.1 167.1 L570.4 165.9 L570.5 164.8 L570.5 163.6 L570.2 162.5 L569.7 161.5 L569.1 160.6 L568.4 159.9 L567.5 159.3 L566.6 158.9 L565.6 158.7 L564.7 158.7 L563.8 158.8 L563.0 159.1 L562.2 159.5 L561.6 160.0 L561.1 160.6 L560.7 161.3 L560.5 162.0 L560.5 162.7 L560.5 163.4 L560.7 164.0 L561.0 164.5 L561.3 164.9 L561.7 165.3 L562.1 165.5 L562.6 165.6 L563.0 165.7 L563.4 165.6 L563.4 165.3 L563.1 165.3 L562.8 165.1 L562.5 164.9 L562.2 164.7 L562.0 164.4 L561.9 164.0 L561.8 163.6 L561.8 163.2 L561.9 162.8 L562.0 162.4 L562.2 162.1 L562.5 161.7 L562.8 161.4 L563.2 161.1 L563.7 161.0 L564.2 160.9 L564.7 160.8 L565.3 160.9 L565.8 161.1 L566.3 161.4 L566.8 161.7 L567.2 162.2 L567.5 162.7 L567.8 163.3 L567.9 164.0 L568.0 164.7 L567.9 165.4 L567.6 166.1 L567.3 166.8 L566.8 167.4 L566.2 168.0 L565.5 168.4 L564.7 168.8 L563.9 169.0 L562.9 169.0 L562.0 168.9 L561.1 168.6 L560.2 168.2 L559.3 167.6 L558.6 166.8 L558.0 165.9 L557.6 164.8 L557.3 163.7 L557.2 162.5 L557.4 161.3 L557.8 160.1 L558.4 159.0 L559.2 157.9 L560.2 157.0 L561.3 156.3 L562.6 155.7 L564.0 155.4 L565.5 155.4 L567.0 155.6 L568.5 156.1 L569.9 156.8Z"/>
<path class="lf" d="M589.5 167.0 L588.5 167.5 L587.5 168.1 L586.7 168.7 L585.8 169.5 L585.1 170.4 L584.5 171.4 L584.0 172.4 L583.6 173.6 L583.3 174.7 L583.2 175.9 L583.2 177.2 L583.4 178.4 L583.7 179.7 L584.1 180.9 L584.6 182.1 L585.2 183.3 L585.4 183.3 L585.6 181.9 L585.9 180.6 L586.2 179.4 L586.6 178.3 L586.9 177.3 L587.3 176.4 L587.6 175.6 L587.8 174.7 L588.0 173.9 L588.2 173.1 L588.3 172.2 L588.5 171.3 L588.6 170.3 L588.9 169.3 L589.2 168.2 L589.6 167.1Z"/>
<path class="lf" d="M588.5 167.9 L587.6 168.0 L586.8 168.1 L585.9 168.3 L585.1 168.5 L584.2 168.8 L583.4 169.2 L582.6 169.6 L581.8 170.1 L581.0 170.7 L580.3 171.3 L579.7 172.0 L579.1 172.8 L578.5 173.6 L578.0 174.4 L577.6 175.3 L577.2 176.1 L577.4 176.3 L578.1 175.6 L578.8 175.0 L579.5 174.4 L580.2 173.9 L580.9 173.4 L581.6 172.9 L582.3 172.4 L583.0 171.9 L583.7 171.4 L584.4 170.9 L585.1 170.5 L585.8 170.0 L586.5 169.5 L587.2 169.0 L587.8 168.5 L588.5 168.1Z"/>
<path class="ln" d="M577.300 176.200 C576.300 177 575.800 178 576 179.200 M585 183.300 C584.200 184.200 583.800 185 584 186"/>
</g>
</g>
<circle cx="591.200" cy="50.600" r="14.600" fill="#d6e1f2" stroke="#8aa3d6" stroke-width="0.700"/>
<circle cx="591.200" cy="50.600" r="12.700" fill="#e9eff8" stroke="#7a96d0" stroke-width="0.700"/>
<circle cx="591.200" cy="50.600" r="10.400" fill="#f7fafd" stroke="#6685c8" stroke-width="0.800"/>
<g transform="translate(591.200 50.600) scale(1.250) translate(-591.200 -50)"><path d="M584.500 46.200 C587 43.200 591 44.200 595.500 41.700 M586 49.200 C589 47.200 591.500 50.200 596 47.200 M586.500 53.700 C589.500 51.700 593 55.700 596.500 52.700 M591.200 43.200 V57.200 M588 56.700 C590 58.700 593.500 58.700 595 56.200 M586.500 45.200 C585.500 49.200 587.500 52.200 586.500 56.200 M594 45.200 C596 48.200 594 52.200 595.500 55.700 M588.500 45.700 L594 54.200 M594 46.200 L588.500 54.200 M585 51 C587 50 589 52 591 51 M592 48 C594 49 596 49 597.500 50.500" fill="none" stroke="#4361b8" stroke-width="0.8" stroke-linecap="round"/></g>
<path class="rb" d="M581.300 29 C587 27.300 595.500 27.300 601.100 29 L600.600 36 C595.500 34.600 587 34.600 581.800 36 Z"/>
<path class="rb2" d="M581.300 29 L578.500 31 L579.500 37 L581.800 36 Z M601.100 29 L603.900 31 L602.900 37 L600.600 36 Z"/>
<path class="sv" d="M584.200 153.500 C585 150.800 588 150 591.200 151.300 C594.400 150 597.400 150.800 598.200 153.500 C599.500 156 598 159 595.500 160 C594 161 592.500 160.500 591.200 159.500 C589.900 160.500 588.400 161 586.900 160 C584.400 159 582.900 156 584.200 153.500 Z" style="stroke:#4f63a6;stroke-width:0.7"/>
<path d="M587.500 154.300 C588.500 152.300 593.900 152.300 594.900 154.300 C595.400 156.800 593.400 158.300 591.200 158.300 C589 158.300 587 156.800 587.500 154.300 Z" fill="#f8fafd" stroke="#8fa1cc" stroke-width="0.4"/>
<path d="M591.200 165 C588.600 170 588.300 180 591.200 187.200 C594.100 180 593.800 170 591.200 165 Z" fill="#f3f6fb" stroke="#4f63a6" stroke-width="0.7" stroke-linejoin="round"/>
<path d="M591.200 168 V184" fill="none" stroke="#4f63a6" stroke-width="0.5"/>
</g>
<path d="M529 103.200 L513.600 110.700 L520.300 116.200 L519.800 124.600 L541 114.600 L541 109.500 Z" fill="#f4f7fb" fill-opacity="0.45" stroke="#bcc6d9" stroke-width="0.600" stroke-linejoin="round"/><path d="M528.200 103 C527 106 528 109 531 110.500 C534 111.500 538 111 541 109.500 L541 114.600 C536 112.500 531 111 528.200 108.500 Z" fill="url(#tl)" stroke="#aab6cf" stroke-width="0.500"/>
<g transform="translate(1182.4 0) scale(-1 1)"><path d="M529 103.200 L513.600 110.700 L520.300 116.200 L519.800 124.600 L541 114.600 L541 109.500 Z" fill="#f4f7fb" fill-opacity="0.45" stroke="#bcc6d9" stroke-width="0.600" stroke-linejoin="round"/><path d="M528.200 103 C527 106 528 109 531 110.500 C534 111.500 538 111 541 109.500 L541 114.600 C536 112.500 531 111 528.200 108.500 Z" fill="url(#tl)" stroke="#aab6cf" stroke-width="0.500"/></g>
<path d="M530 87.900 C565 86.300 617.400 86.300 652.400 87.900 C654 88 654.600 89 654.600 90.500 L654.600 106 C654.600 107.300 654 108 652.400 108 C617.400 107 565 107 530 108 C528.400 108 527.800 107.300 527.800 106 L527.800 90.500 C527.800 89 528.400 88 530 87.900 Z" fill="url(#bn)" stroke="#8fa3cf" stroke-width="0.800" stroke-linejoin="round"/>
<path d="M531 108 C565 107 617.400 107 651.400 108" fill="none" stroke="url(#ul)" stroke-width="0.800" stroke-opacity="0.8"/>
<path d="M543 111 C575 110.100 607.400 110.100 641 111" fill="none" stroke="url(#ul)" stroke-width="1.100"/>
<text class="brand" fill="url(#bt)" text-anchor="middle" transform="translate(0 104.300) scale(0.70 1)" x="773.4 795.4 817.7 837.4 853.4 873.4 893.6 917.0" y="0">CARLETTA</text>
<text class="sub" transform="translate(576.200 127) scale(0.8518 1)">NANE ÇAYI</text>
<text class="rt" transform="translate(551 51.200) rotate(-21)" textLength="18" lengthAdjust="spacing">MOSS</text>
<text class="rt" transform="translate(611.500 43.800) rotate(21)" textLength="21.500" lengthAdjust="spacing">SERIES</text>
<path d="M588.300 30.300 V33.600 M591.200 30.200 V33.500 M594.100 30.300 V33.600" fill="none" stroke="#8093bd" stroke-width="0.9"/>
</g>
</svg>
</body>
</html>
